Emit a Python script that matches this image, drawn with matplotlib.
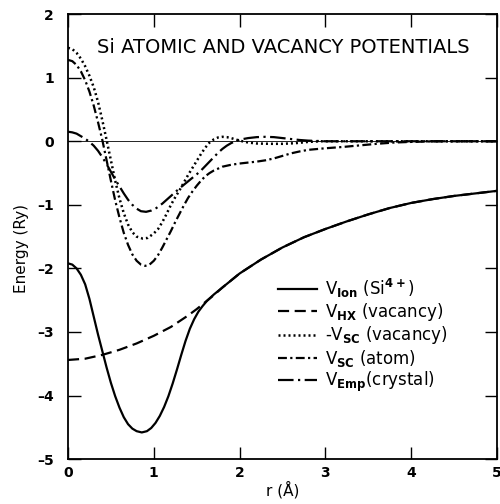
import matplotlib
matplotlib.use("Agg")
import matplotlib.pyplot as plt

# values (r in Angstrom, energy in Ry)
r_ion = [0, 0.05, 0.1, 0.15, 0.2, 0.25, 0.3, 0.35, 0.4, 0.45, 0.5, 0.55, 0.6, 0.65,
         0.7, 0.75, 0.8, 0.86, 0.92, 0.97, 1.02, 1.07, 1.12, 1.17, 1.22, 1.27, 1.32,
         1.37, 1.42, 1.47, 1.52, 1.57, 1.62, 1.7, 1.8, 1.9, 2.0, 2.25, 2.5, 2.75, 3.0,
         3.25, 3.5, 3.75, 4.0, 4.25, 4.5, 4.75, 5.0]
v_ion = [-1.92, -1.94, -2.0, -2.1, -2.25, -2.48, -2.76, -3.04, -3.3, -3.56, -3.8,
         -4.01, -4.19, -4.34, -4.45, -4.52, -4.56, -4.58, -4.56, -4.51, -4.43, -4.32,
         -4.18, -4.01, -3.81, -3.59, -3.36, -3.14, -2.95, -2.8, -2.68, -2.59, -2.51,
         -2.41, -2.3, -2.19, -2.08, -1.86, -1.67, -1.51, -1.38, -1.26, -1.15, -1.05,
         -0.97, -0.91, -0.86, -0.82, -0.78]

r_hx = [0, 0.2, 0.4, 0.6, 0.8, 1.0, 1.1, 1.2, 1.3, 1.4, 1.5, 1.6, 1.7, 1.8, 1.9, 2.0,
        2.25, 2.5, 2.75, 3.0, 3.25, 3.5, 3.75, 4.0, 4.25, 4.5, 4.75, 5.0]
v_hx = [-3.44, -3.42, -3.36, -3.28, -3.18, -3.06, -2.99, -2.92, -2.83, -2.74, -2.64,
        -2.53, -2.42, -2.3, -2.19, -2.08, -1.86, -1.67, -1.51, -1.38, -1.26, -1.15,
        -1.05, -0.97, -0.91, -0.86, -0.82, -0.78]

r_vac = [0, 0.05, 0.1, 0.15, 0.2, 0.25, 0.3, 0.35, 0.4, 0.45, 0.5, 0.55, 0.6, 0.65,
         0.7, 0.75, 0.8, 0.87, 0.93, 1.0, 1.05, 1.1, 1.15, 1.2, 1.25, 1.3, 1.35, 1.4,
         1.45, 1.5, 1.55, 1.6, 1.65, 1.7, 1.75, 1.8, 1.85, 1.9, 1.95, 2.0, 2.1, 2.2,
         2.35, 2.5, 2.65, 2.8, 2.95, 5.0]
v_vac = [1.47, 1.45, 1.39, 1.3, 1.18, 1.03, 0.85, 0.62, 0.33, 0.02, -0.3, -0.62,
         -0.9, -1.13, -1.31, -1.43, -1.5, -1.53, -1.52, -1.45, -1.38, -1.27, -1.14,
         -1.0, -0.88, -0.77, -0.65, -0.53, -0.42, -0.31, -0.2, -0.1, -0.02, 0.03,
         0.06, 0.07, 0.065, 0.05, 0.03, 0.01, -0.02, -0.035, -0.04, -0.04, -0.03,
         -0.01, 0.0, 0.0]

r_atom = [0, 0.05, 0.1, 0.15, 0.2, 0.25, 0.3, 0.35, 0.4, 0.45, 0.5, 0.55, 0.6, 0.65,
          0.7, 0.75, 0.8, 0.85, 0.9, 0.95, 1.0, 1.05, 1.1, 1.15, 1.2, 1.25, 1.3,
          1.35, 1.4, 1.45, 1.5, 1.55, 1.6, 1.65, 1.7, 1.8, 1.9, 2.0, 2.1, 2.2, 2.3,
          2.4, 2.5, 2.6, 2.7, 2.8, 3.0, 3.2, 3.4, 3.6, 3.8, 4.0, 4.3, 5.0]
v_atom = [1.28, 1.26, 1.2, 1.1, 0.96, 0.78, 0.56, 0.3, 0.02, -0.3, -0.62, -0.93,
          -1.2, -1.44, -1.63, -1.78, -1.88, -1.94, -1.96, -1.94, -1.88, -1.79,
          -1.67, -1.54, -1.41, -1.27, -1.14, -1.01, -0.89, -0.79, -0.7, -0.62,
          -0.55, -0.5, -0.46, -0.4, -0.37, -0.35, -0.335, -0.32, -0.3, -0.27,
          -0.23, -0.19, -0.16, -0.135, -0.11, -0.09, -0.065, -0.04, -0.02, -0.01,
          0.0, 0.0]

r_emp = [0, 0.05, 0.1, 0.15, 0.2, 0.25, 0.3, 0.35, 0.4, 0.45, 0.5, 0.55, 0.6, 0.65,
         0.7, 0.75, 0.8, 0.85, 0.91, 0.97, 1.03, 1.1, 1.2, 1.3, 1.4, 1.5, 1.55, 1.6,
         1.65, 1.7, 1.75, 1.8, 1.85, 1.9, 1.95, 2.0, 2.1, 2.2, 2.3, 2.4, 2.5, 2.6,
         2.7, 2.8, 3.0, 5.0]
v_emp = [0.15, 0.14, 0.12, 0.08, 0.04, -0.01, -0.07, -0.15, -0.25, -0.36, -0.48,
         -0.6, -0.71, -0.82, -0.92, -1.0, -1.06, -1.1, -1.11, -1.09, -1.05, -0.98,
         -0.86, -0.74, -0.63, -0.52, -0.46, -0.39, -0.32, -0.25, -0.18, -0.12,
         -0.07, -0.03, 0.0, 0.025, 0.05, 0.065, 0.07, 0.065, 0.05, 0.035, 0.02,
         0.01, 0.0, 0.0]

labels = [r"V$_{\mathbf{Ion}}$ (Si$^{\mathbf{4+}}$)",
          r"V$_{\mathbf{HX}}$ (vacancy)",
          r"-V$_{\mathbf{SC}}$ (vacancy)",
          r"V$_{\mathbf{SC}}$ (atom)",
          r"V$_{\mathbf{Emp}}$(crystal)"]

x_ticks = [0, 1, 2, 3, 4, 5]
y_ticks = [2, 1, 0, -1, -2, -3, -4, -5]
y_ticklabels = ["2", "1", "0", "\u20131", "\u20132", "\u20133", "\u20134", "\u20135"]

plt.rcParams['font.family'] = ['DejaVu Sans']
plt.rcParams['mathtext.fontset'] = 'dejavusans'

fig = plt.figure(figsize=(5.0, 5.04), dpi=100)
ax = fig.add_axes([0.136, 0.089, 0.858, 0.883])

ax.axhline(0, color='black', lw=0.6)
ax.plot(r_ion, v_ion, color='black', lw=1.6, ls='-', label=labels[0])
ax.plot(r_hx, v_hx, color='black', lw=1.6, ls=(0, (5, 2.5)), label=labels[1])
ax.plot(r_vac, v_vac, color='black', lw=1.8, ls=(0, (0.8, 1.2)), label=labels[2])
ax.plot(r_atom, v_atom, color='black', lw=1.6, ls=(0, (4, 1.5, 1, 1.5)), label=labels[3])
ax.plot(r_emp, v_emp, color='black', lw=1.6, ls=(0, (7, 2, 1, 2)), label=labels[4])

ax.set_xlim(0, 5)
ax.set_ylim(-5, 2)
ax.set_xticks(x_ticks)
ax.set_yticks(y_ticks)
ax.set_yticklabels(y_ticklabels)
ax.tick_params(direction='in', length=9, width=1, top=True, right=True,
               labelsize=10)
ax.tick_params(axis='y', pad=10)
ax.tick_params(axis='x', pad=5)
for lab in ax.get_xticklabels() + ax.get_yticklabels():
    lab.set_fontweight('bold')
for s in ax.spines.values():
    s.set_linewidth(1.3)

ax.set_xlabel("r (\u00c5)", fontsize=11, labelpad=1)
ax.set_ylabel("Energy (Ry)", fontsize=11)
ax.yaxis.set_label_coords(-0.09, 0.474)

ax.text(0.503, 0.925, "Si ATOMIC AND VACANCY POTENTIALS", transform=ax.transAxes,
        ha='center', va='center', fontsize=14)

ax.legend(loc='upper left', bbox_to_anchor=(0.49, 0.41), frameon=False,
          fontsize=12, handlelength=2.3, handletextpad=0.5, labelspacing=0.08,
          borderpad=0, borderaxespad=0)

fig.savefig("out.png", dpi=100)
